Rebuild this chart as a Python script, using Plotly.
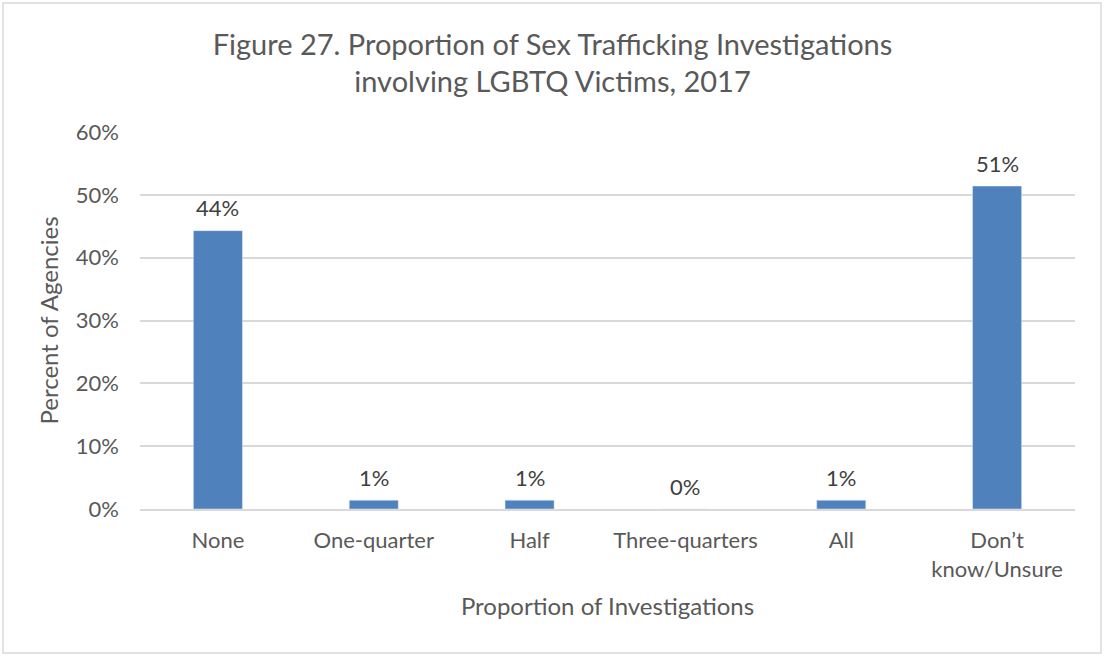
import plotly.graph_objects as go

# proportion of investigations involving LGBTQ victims
categories = ["None", "One-quarter", "Half", "Three-quarters", "All", "Don’t<br>know/Unsure"]
share = [0.443, 0.014, 0.014, 0.0, 0.014, 0.514]
labels = [f"{round(v * 100):.0f}%" for v in share]

font_name = "Lato, Open Sans, sans-serif"
grey = "#595959"

fig = go.Figure(go.Bar(
    x=categories, y=share,
    marker_color="#4F81BD", width=0.315,
))

# value labels sit a bit above each bar
for cat, val, lab in zip(categories, share, labels):
    fig.add_annotation(x=cat, y=val, text=lab, showarrow=False,
                       yanchor="middle", yshift=23,
                       font=dict(size=22, color="#404040"))

fig.update_layout(
    width=1105, height=658,
    margin=dict(l=140, r=30, t=132, b=149),
    paper_bgcolor="white", plot_bgcolor="white",
    font=dict(family=font_name, color=grey),
    title=dict(
        text="Figure 27. Proportion of Sex Trafficking Investigations<br>involving LGBTQ Victims, 2017",
        x=0.5, xanchor="center", y=0.917, yanchor="top",
        font=dict(size=29, color=grey),
    ),
    showlegend=False,
)
fig.update_xaxes(
    title=dict(text="Proportion of Investigations", font=dict(size=24, color=grey), standoff=17),
    tickfont=dict(size=22, color=grey),
    showline=True, linecolor="#d9d9d9", linewidth=1.5,
    ticks="outside", ticklen=11, tickcolor="rgba(0,0,0,0)",
)
fig.update_yaxes(
    title=dict(text="Percent of Agencies", font=dict(size=24, color=grey), standoff=10),
    range=[0, 0.6], dtick=0.1, tickformat=".0%",
    tickfont=dict(size=22, color=grey),
    gridcolor="#d9d9d9", gridwidth=1.5, zeroline=False,
    ticklabelstandoff=20,
)
# light border round the whole chart
fig.add_shape(type="rect", xref="paper", yref="paper",
              x0=-137 / 935, x1=1 + 26 / 935, y0=-144 / 377, y1=1 + 129 / 377,
              line=dict(color="#d9d9d9", width=1.5))

fig.write_html("out.html", config={"displayModeBar": False},
               post_script="document.body.style.margin='0';")
